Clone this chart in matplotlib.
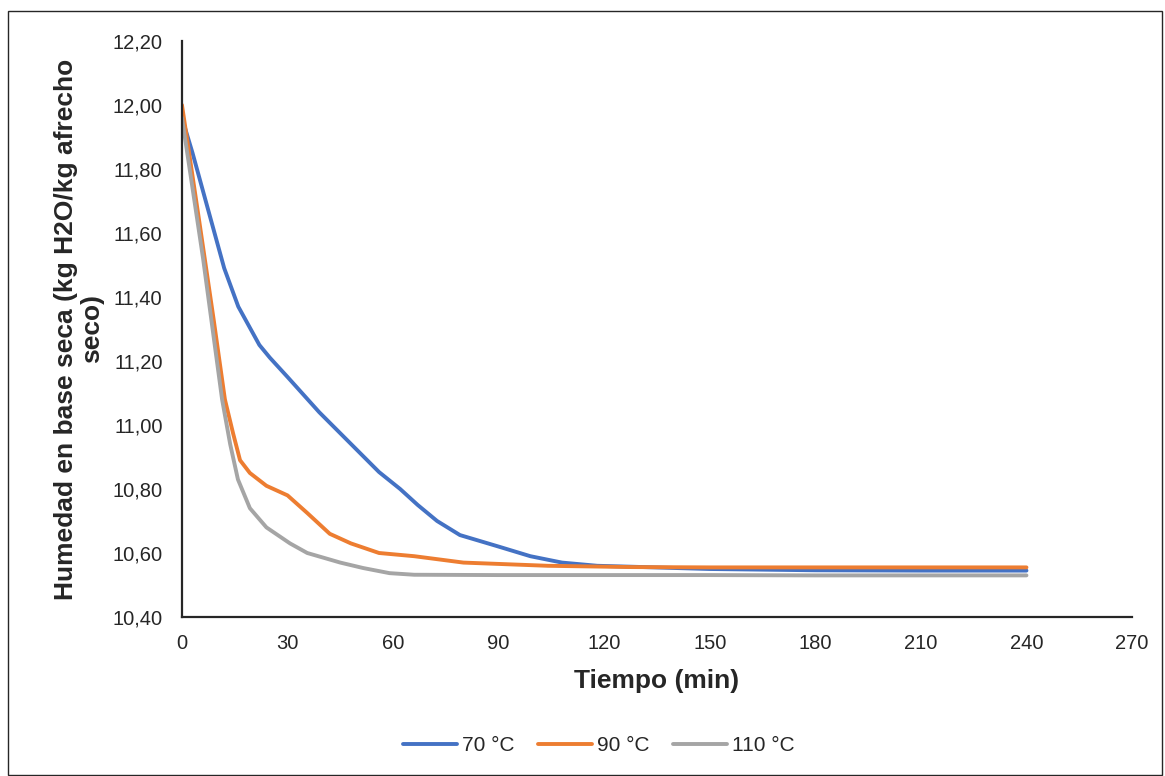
import numpy as np
import matplotlib.pyplot as plt
from matplotlib.patches import Rectangle
from matplotlib.ticker import FuncFormatter

# Datos
t_70 = [0, 3, 6, 9, 12, 16, 19, 22, 25, 30, 39, 49, 56, 62, 67, 72.5, 79, 90, 99, 108, 118, 128, 150, 180, 210, 240]
h_70 = [11.96, 11.85, 11.73, 11.61, 11.49, 11.37, 11.31, 11.25, 11.21, 11.15, 11.04, 10.93, 10.853, 10.80,
        10.75, 10.70, 10.656, 10.62, 10.59, 10.57, 10.56, 10.557, 10.55, 10.546, 10.545, 10.545]

t_90 = [0, 5, 9, 12.2, 14.5, 16.5, 19.3, 24, 30, 35.6, 42, 48, 56, 66, 80, 104, 128, 150, 180, 210, 240]
h_90 = [12.00, 11.63, 11.33, 11.08, 10.975, 10.89, 10.85, 10.81, 10.78, 10.725, 10.66, 10.63, 10.60, 10.59,
        10.57, 10.56, 10.556, 10.555, 10.555, 10.555, 10.555]

t_110 = [0, 6, 11.4, 13.7, 15.9, 19.3, 24, 30.7, 35.6, 45, 51.5, 59, 66, 90, 120, 150, 180, 210, 240]
h_110 = [11.96, 11.52, 11.08, 10.94, 10.83, 10.74, 10.68, 10.63, 10.60, 10.57, 10.553, 10.537, 10.532,
         10.531, 10.531, 10.531, 10.53, 10.53, 10.53]

series = [(t_70, h_70, '70 °C', '#4472C4'),
          (t_90, h_90, '90 °C', '#ED7D31'),
          (t_110, h_110, '110 °C', '#A5A5A5')]

plt.rcParams['font.family'] = ['Liberation Sans', 'DejaVu Sans']

fig = plt.figure(figsize=(11.65, 7.76), dpi=100)
ax = fig.add_axes([0.1562, 0.2049, 0.8155, 0.7423])

for t, h, lab, col in series:
    ax.plot(t, h, color=col, linewidth=2.8, label=lab, solid_capstyle='round', solid_joinstyle='round')

ax.set_xlim(0, 270)
ax.set_ylim(10.40, 12.20)
ax.set_xticks(np.arange(0, 271, 30))
ax.set_yticks(np.arange(10.40, 12.21, 0.20))
ax.yaxis.set_major_formatter(FuncFormatter(lambda v, p: f'{v:.2f}'.replace('.', ',')))
ax.tick_params(length=0, labelsize=14.5, labelcolor='#262626')
ax.tick_params(axis='x', pad=12)
ax.tick_params(axis='y', pad=14)
for s in ['top', 'right']:
    ax.spines[s].set_visible(False)
for s in ['left', 'bottom']:
    ax.spines[s].set_color('#262626')
    ax.spines[s].set_linewidth(1.6)

ax.set_xlabel('Tiempo (min)', fontsize=19, fontweight='bold', color='#262626', labelpad=12)
ax.set_ylabel('Humedad en base seca (kg H2O/kg afrecho\nseco)', fontsize=19, fontweight='bold',
              color='#262626', labelpad=6, linespacing=1.1)

leg = fig.legend(loc='center', bbox_to_anchor=(0.514, 0.0395), ncol=3, frameon=False, fontsize=15,
                 handlelength=2.6, columnspacing=1.1, handletextpad=0.25)
for txt in leg.get_texts():
    txt.set_color('#262626')

fig.patches.append(Rectangle((8 / 1165, 0.001), 1154 / 1165, 1 - 11 / 776 - 0.001, transform=fig.transFigure,
                             fill=False, edgecolor='#262626', linewidth=1.0))

fig.savefig('out.png', dpi=100)
